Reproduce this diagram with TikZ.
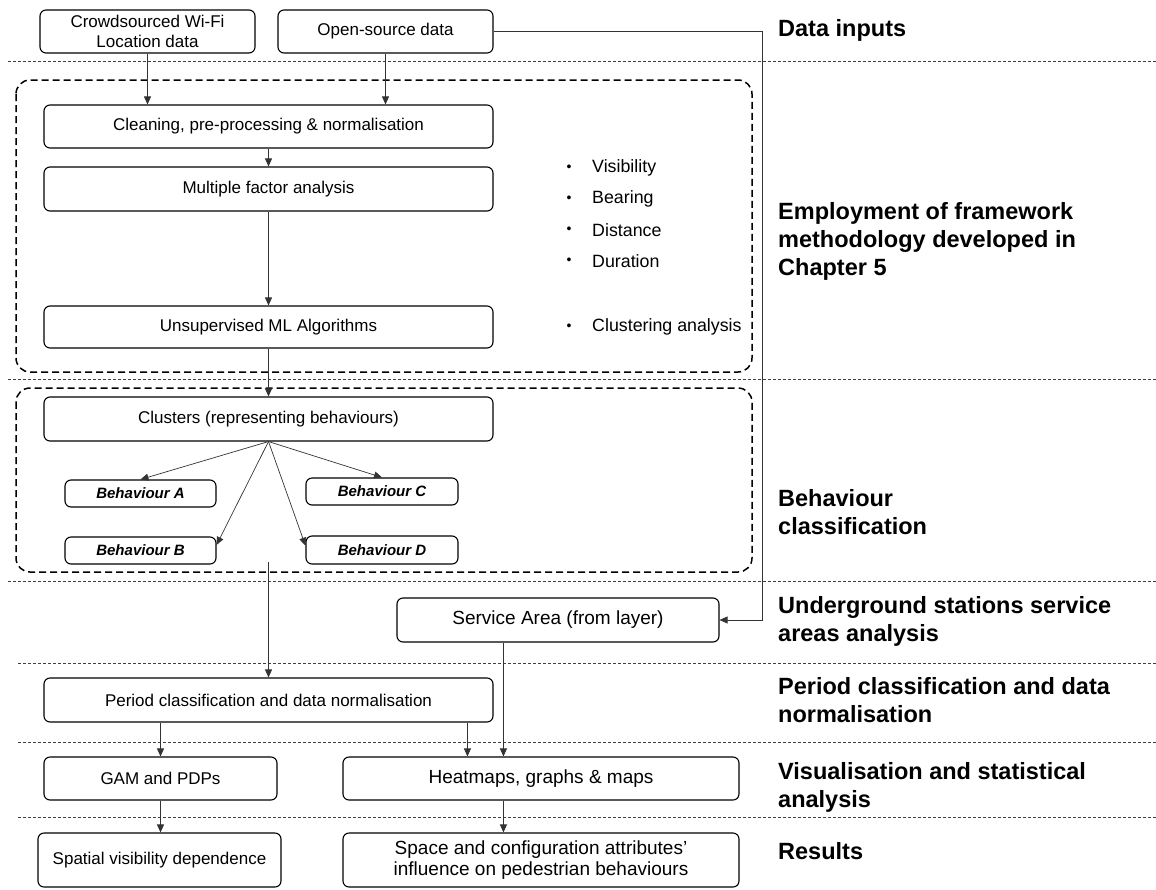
\documentclass[tikz,border=0pt]{standalone}
\usepackage{fontspec}
\setmainfont{Liberation Sans}
\usetikzlibrary{arrows.meta,calc}

\begin{document}
\begin{tikzpicture}[x=1pt,y=-1pt,
  box/.style={draw=black, line width=1.1pt, rounded corners=6pt, inner sep=0pt,
    align=center, font=\fontsize{17}{20.5}\selectfont},
  bigbox/.style={box, font=\fontsize{19}{21}\selectfont},
  beh/.style={box, font=\fontsize{15}{17}\selectfont\bfseries\itshape},
  arr/.style={draw=black!80, line width=0.7pt, -{Triangle[length=8pt,width=7pt]}},
  sep/.style={draw=black!75, line width=0.7pt, dash pattern=on 3pt off 2pt},
  cont/.style={draw=black, line width=1.5pt, rounded corners=14pt, dash pattern=on 7pt off 4pt},
  head/.style={anchor=west, inner sep=0pt, align=left,
    font=\fontsize{23.5}{28}\selectfont\bfseries},
  item/.style={anchor=west, inner sep=0pt, font=\fontsize{17.8}{20}\selectfont},
  dot/.style={inner sep=0pt, font=\fontsize{14}{16}\selectfont}
]
\useasboundingbox (0,0) rectangle (1156,889);

% stage separators
\draw[sep] (8,61) -- (1156,61);
\draw[sep] (8,379) -- (1156,379);
\draw[sep] (8,581) -- (1156,581);
\draw[sep] (18,663) -- (1156,663);
\draw[sep] (18,742) -- (1156,742);
\draw[sep] (18,817) -- (1156,817);

% framework groups
\draw[cont] (16,80) rectangle (752,372);
\draw[cont] (16,388) rectangle (752,572);

% data inputs
\node[box, minimum width=215pt, minimum height=43pt] (cw) at (147.5,31.5) {Crowdsourced Wi-Fi\\Location data};
\node[box, minimum width=215pt, minimum height=43pt] (os) at (385.5,31.5) {Open-source data};

% framework methodology
\node[box, minimum width=449pt, minimum height=43pt] (clean) at (268.5,126.5) {Cleaning, pre-processing \& normalisation};
\node[box, minimum width=449pt, minimum height=44pt] (mfa) at (268.5,189) {Multiple factor analysis};
\node[box, minimum width=449pt, minimum height=42pt] (uml) at (268.5,327) {Unsupervised ML Algorithms};

\foreach \t/\y [count=\i] in {Visibility/168, Bearing/199, Distance/230, Duration/261, Clustering analysis/327} {
  \node[dot] (dot\i) at (569,\y) {•};
  \node[item] (item\i) at (592,\y) {\t};
}

% behaviour classification
\node[box, minimum width=449pt, minimum height=44pt] (clus) at (268.5,419) {Clusters (representing behaviours)};
\node[beh, minimum width=151pt, minimum height=27pt] (bA) at (140.5,493.5) {Behaviour A};
\node[beh, minimum width=152pt, minimum height=27pt] (bC) at (382,491.5) {Behaviour C};
\node[beh, minimum width=151pt, minimum height=27pt] (bB) at (140.5,550.5) {Behaviour B};
\node[beh, minimum width=152pt, minimum height=28pt] (bD) at (382,550) {Behaviour D};
\coordinate (bout) at (268.5,562);

% service areas, periods, analysis, results
\node[bigbox, minimum width=322pt, minimum height=44pt] (sa) at (558,620) {Service Area (from layer)};
\node[box, minimum width=449pt, minimum height=44pt] (per) at (268.5,700) {Period classification and data normalisation};
\node[box, minimum width=233pt, minimum height=43pt] (gam) at (160.5,778.5) {GAM and PDPs};
\node[bigbox, minimum width=396pt, minimum height=43pt] (heat) at (541,778.5) {Heatmaps, graphs \& maps};
\node[box, minimum width=243pt, minimum height=54pt] (spat) at (159.5,860) {Spatial visibility dependence};
\node[bigbox, minimum width=396pt, minimum height=54pt] (space) at (541,860) {Space and configuration attributes’\\influence on pedestrian behaviours};

% entry points on the analysis boxes
\coordinate (heatA) at ($(heat.north west)+(125,0)$);
\coordinate (heatB) at ($(heat.north west)+(161,0)$);
\coordinate (heatC) at ($(heat.south west)+(161,0)$);
\coordinate (spaceA) at ($(space.north west)+(161,0)$);

% connectors
\draw[arr] (cw.south) -- (cw.south |- clean.north);
\draw[arr] (os.south) -- (os.south |- clean.north);
\draw[arr] (clean.south) -- (mfa.north);
\draw[arr] (mfa.south) -- (uml.north);
\draw[arr] (uml.south) -- (clus.north);
\draw[arr] (clus.south) -- (bA.north);
\draw[arr] (clus.south) -- (bC.north);
\draw[arr] (clus.south) -- ($(bB.north east)!0.3!(bB.south east)$);
\draw[arr] (clus.south) -- ($(bD.north west)!0.35!(bD.south west)$);
\draw[arr] (bout) -- (per.north);
\draw[arr] (os.east) -- ++(269,0) |- (sa.east);
\draw[arr] (gam.north |- per.south) -- (gam.north);
\draw[arr] (heatA |- per.south) -- (heatA);
\draw[arr] (heatB |- sa.south) -- (heatB);
\draw[arr] (gam.south) -- (gam.south |- spat.north);
\draw[arr] (heatC) -- (spaceA);

% stage headings
\node[head] (h1) at (778,30) {Data inputs};
\node[head] (h2) at (778,241) {Employment of framework\\methodology developed in\\Chapter 5};
\node[head] (h3) at (778,512) {Behaviour\\classification};
\node[head] (h4) at (778,621) {Underground stations service\\areas analysis};
\node[head] (h5) at (778,700) {Period classification and data\\normalisation};
\node[head] (h6) at (778,787) {Visualisation and statistical\\analysis};
\node[head] (h7) at (778,851) {Results};
\end{tikzpicture}
\end{document}
